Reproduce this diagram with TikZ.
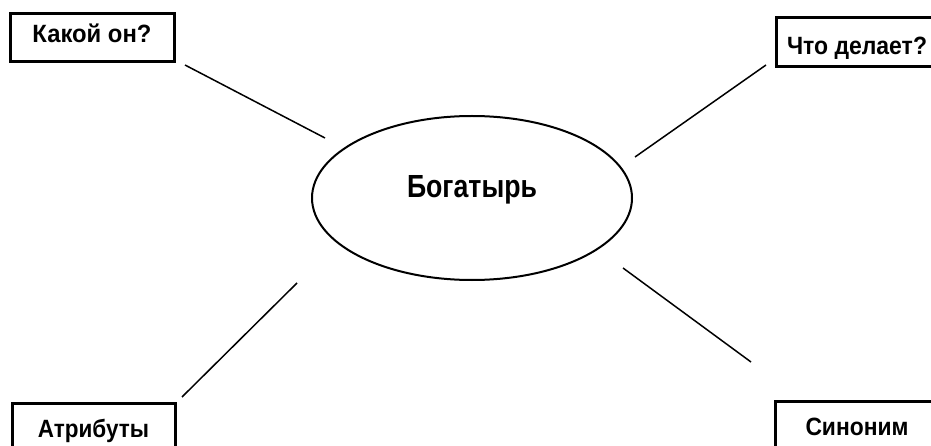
\documentclass[tikz,border=0pt]{standalone}
\usepackage{fontspec}
\setmainfont{Liberation Sans}
\usetikzlibrary{shapes.geometric}
\begin{document}
\begin{tikzpicture}[x=1pt,y=-1pt,
  boxnode/.style={draw=black,line width=3pt,rectangle,inner sep=0pt,text depth=0pt,
    font=\fontsize{25}{29}\selectfont\bfseries},
  ellnode/.style={draw=black,line width=2pt,ellipse,inner sep=0pt,text height=0pt,text depth=0pt,
    minimum width=320pt,minimum height=164pt,font=\fontsize{32}{36}\selectfont\bfseries},
  link/.style={line width=1.5pt,black}]
\clip (0,0) rectangle (931,446);
\fill[white] (0,0) rectangle (931,446);
\node[ellnode] (center) at (472,198) {\resizebox{130pt}{\height}{Богатырь}};
\node[boxnode,minimum width=164pt,minimum height=48pt,text height=10pt] (what) at (92,38) {\resizebox{119pt}{\height}{Какой он?}};
\node[boxnode,minimum width=162pt,minimum height=49pt,text height=25pt] (does) at (857,42.5) {\resizebox{140pt}{\height}{Что делает?}};
\node[boxnode,minimum width=163pt,minimum height=50pt,text height=18pt] (attr) at (93.5,428) {\resizebox{111pt}{\height}{Атрибуты}};
\node[boxnode,minimum width=164pt,minimum height=50pt,text height=18pt] (syn) at (857,426) {\resizebox{103pt}{\height}{Синоним}};
\coordinate (a1) at (185,65);  \coordinate (b1) at (325,138);
\coordinate (a2) at (766,65);  \coordinate (b2) at (635,157);
\coordinate (a3) at (182,397); \coordinate (b3) at (297,283);
\coordinate (a4) at (751,362); \coordinate (b4) at (623,268);
\draw[link] (a1) -- (b1);
\draw[link] (a2) -- (b2);
\draw[link] (a3) -- (b3);
\draw[link] (a4) -- (b4);
\end{tikzpicture}
\end{document}
